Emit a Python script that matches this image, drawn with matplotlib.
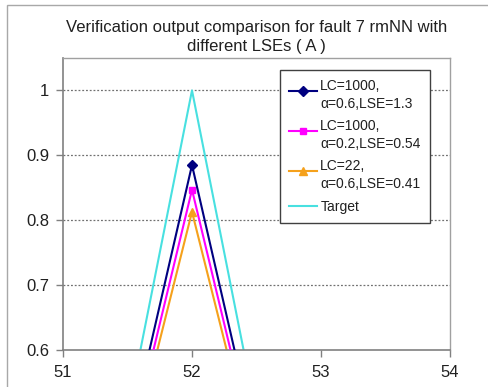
import matplotlib
matplotlib.use("Agg")
import matplotlib.pyplot as plt
from matplotlib.legend_handler import HandlerLine2D
from matplotlib.patches import Rectangle

plt.rcParams["font.family"] = ["Liberation Sans", "DejaVu Sans"]

# Data
x_values = [51, 52, 53]
lc1000_a06 = [0.02, 0.885, 0.02]
lc1000_a02 = [0.02, 0.847, 0.02]
lc22_a06 = [0.02, 0.813, 0.02]
target = [0.0, 1.0, 0.0]

series_labels = [
    "LC=1000,\nα=0.6,LSE=1.3",
    "LC=1000,\nα=0.2,LSE=0.54",
    "LC=22,\nα=0.6,LSE=0.41",
    "Target",
]
x_ticks = [51, 52, 53, 54]
y_ticks = [0.6, 0.7, 0.8, 0.9, 1.0]
y_tick_labels = ["0.6", "0.7", "0.8", "0.9", "1"]
title_text = "Verification output comparison for fault 7 rmNN with\ndifferent LSEs ( A )"

W, H = 488, 387
fig = plt.figure(figsize=(W / 100, H / 100), dpi=100)
fig.patch.set_facecolor("white")

# Chart-area frame
fig.patches.append(Rectangle((7 / W, -0.05), 1.2, 1 - 5 / H + 0.05,
                             transform=fig.transFigure, fill=False,
                             edgecolor="#A8A8A8", linewidth=1.0, zorder=0))

ax = fig.add_axes([63 / W, 1 - 350 / H, (450 - 63) / W, (350 - 58) / H])

ax.plot(x_values, lc1000_a06, color="#000080", linewidth=1.5, marker="D",
        markersize=5, label=series_labels[0], zorder=4)
ax.plot(x_values, lc1000_a02, color="#FF00FF", linewidth=1.5, marker="s",
        markersize=5, label=series_labels[1], zorder=3)
ax.plot(x_values, lc22_a06, color="#F5A11C", linewidth=1.5, marker="^",
        markersize=6, label=series_labels[2], zorder=2)
ax.plot(x_values, target, color="#48E0E0", linewidth=1.5,
        label=series_labels[3], zorder=1)

ax.set_xlim(51, 54)
ax.set_ylim(0.6, 1.05)
ax.set_xticks(x_ticks)
ax.set_xticklabels([str(v) for v in x_ticks])
ax.set_yticks(y_ticks)
ax.set_yticklabels(y_tick_labels)

for yv in y_ticks[1:]:
    ax.axhline(yv, color="#707070", linestyle=(0, (1.5, 1.5)), linewidth=0.9, zorder=0)

for side in ("top", "right"):
    ax.spines[side].set_color("#A0A0A0")
    ax.spines[side].set_linewidth(1.0)
for side in ("left", "bottom"):
    ax.spines[side].set_color("#808080")
    ax.spines[side].set_linewidth(1.2)

ax.tick_params(axis="both", direction="out", length=5, width=1.0,
               color="#808080", labelsize=12, labelcolor="#202020")
ax.tick_params(axis="x", pad=6)
ax.tick_params(axis="y", pad=5)

fig.text(256.5 / W, 1 - 37 / H, title_text, ha="center", va="center",
         fontsize=12, color="#202020", linespacing=1.4)


class RaisedHandler(HandlerLine2D):
    """Places the legend key level with the first line of a two-line label."""

    def __init__(self, shift, **kw):
        super().__init__(**kw)
        self.shift = shift

    def create_artists(self, legend, orig_handle, xdescent, ydescent,
                       width, height, fontsize, trans):
        return super().create_artists(legend, orig_handle, xdescent,
                                      ydescent - self.shift, width, height,
                                      fontsize, trans)


handles, labels = ax.get_legend_handles_labels()
hmap = {h: RaisedHandler(6.8, numpoints=1) for h in handles[:3]}
hmap[handles[3]] = HandlerLine2D(numpoints=1)
leg = ax.legend(handles, labels, handler_map=hmap,
                loc="upper left", bbox_to_anchor=(280 / W, 1 - 70 / H),
                bbox_transform=fig.transFigure, borderaxespad=0,
                fontsize=10, frameon=True, fancybox=False, framealpha=1,
                edgecolor="#404040", handlelength=2.0, handletextpad=0.25,
                labelspacing=0.6, borderpad=0.65)
leg.get_frame().set_linewidth(1.0)
for t in leg.get_texts():
    t.set_color("#202020")
    t.set_linespacing(1.35)

fig.savefig("out.png", dpi=100)
